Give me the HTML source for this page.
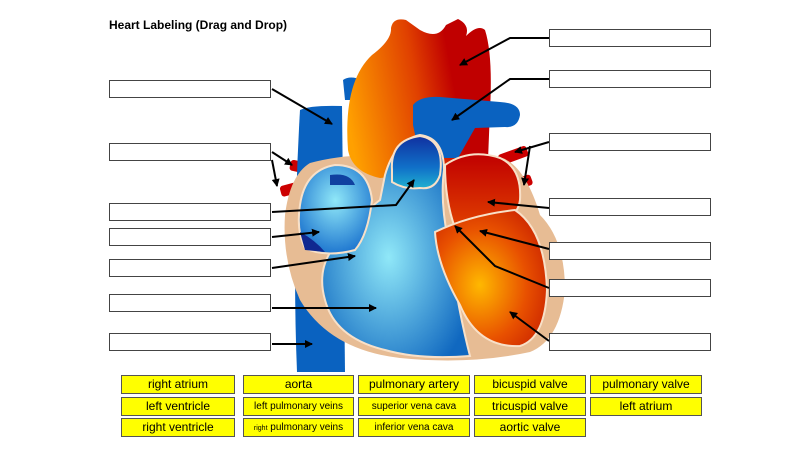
<!DOCTYPE html>
<html><head><style>
body{margin:0;width:800px;height:450px;background:#fff;overflow:hidden;font-family:"Liberation Sans",sans-serif}
.t{position:absolute;left:109px;top:18px;font-size:12px;font-weight:bold}
.b{position:absolute;width:162px;height:18px;border:1px solid #444;background:#fff;box-sizing:border-box}
.y{position:absolute;height:19px;background:#ff0;border:1px solid #555;box-sizing:border-box;font-size:12px;text-align:center;line-height:17px}
</style></head><body>
<svg width="800" height="450" style="position:absolute;left:0;top:0">
<defs>
<linearGradient id="ao" x1="0" y1="0.6" x2="1" y2="0.4"><stop offset="0" stop-color="#ffa000"/><stop offset="0.5" stop-color="#e04000"/><stop offset="0.75" stop-color="#c00000"/></linearGradient>
<radialGradient id="bl" cx="0.45" cy="0.55" r="0.6"><stop offset="0" stop-color="#90e8f8"/><stop offset="1" stop-color="#1068c0"/></radialGradient>
<radialGradient id="ra" cx="0.5" cy="0.4" r="0.6"><stop offset="0" stop-color="#90e8f8"/><stop offset="1" stop-color="#2078d0"/></radialGradient>
<radialGradient id="lo" cx="0.4" cy="0.55" r="0.7"><stop offset="0" stop-color="#ffb800"/><stop offset="0.6" stop-color="#e85000"/><stop offset="1" stop-color="#c82000"/></radialGradient>
<linearGradient id="la" x1="0" y1="0" x2="0" y2="1"><stop offset="0" stop-color="#c00000"/><stop offset="1" stop-color="#e04000"/></linearGradient>
<linearGradient id="pv" x1="0" y1="0" x2="0" y2="1"><stop offset="0" stop-color="#1030a0"/><stop offset="0.6" stop-color="#1070c8"/><stop offset="1" stop-color="#20b0d0"/></linearGradient>
<marker id="a" markerWidth="8" markerHeight="8" refX="7" refY="4" orient="auto" markerUnits="userSpaceOnUse"><path d="M0,0 L8,4 L0,8z" fill="#000"/></marker>
</defs>
<!-- red pulmonary veins -->
<rect x="290" y="162" width="26" height="11" rx="3" fill="#c00" transform="rotate(12 303 167)"/>
<rect x="280" y="182" width="34" height="11" rx="3" fill="#c00" transform="rotate(-15 297 187)"/>
<rect x="498" y="150" width="30" height="11" rx="3" fill="#c00" transform="rotate(-20 513 155)"/>
<rect x="512" y="177" width="20" height="11" rx="3" fill="#c00" transform="rotate(-20 522 182)"/>
<!-- SVC / IVC -->
<path d="M300,110 Q310,105 342,106 L345,372 L297,372 Q292,250 300,110z" fill="#0a62c0"/>
<path d="M343,80 Q350,75 362,80 L362,100 L345,100z" fill="#0a62c0"/>
<!-- outer tan -->
<path d="M310,163 Q290,175 285,215 Q282,260 300,300 Q330,350 400,358 Q470,365 530,352 Q560,340 565,290 Q565,240 540,215 Q525,165 500,157 L460,150 Q430,145 400,160 Q360,150 310,163z" fill="#e7bc94"/>
<!-- aorta arch -->
<path d="M348,150 Q343,82 372,55 Q392,40 391,28 Q393,17 406,20 L420,30 Q438,40 446,25 L458,19 Q470,25 466,36 Q478,24 485,30 Q493,55 490,110 L488,160 L460,172 L380,178 Q352,172 348,150z" fill="url(#ao)"/>
<!-- pulmonary artery blue -->
<path d="M413,105 Q420,96 440,97 L500,102 Q520,103 520,115 Q518,128 505,127 L475,128 L458,158 L420,158 L413,125z" fill="#0a62c0"/>
<!-- right ventricle -->
<path d="M340,240 Q360,215 380,200 L385,175 Q395,140 420,135 Q444,138 444,170 Q440,200 448,240 Q458,310 470,356 Q420,360 385,350 Q335,338 325,300 Q315,265 340,240z" fill="url(#bl)" stroke="#f8e0c8" stroke-width="2"/>
<!-- right atrium -->
<path d="M300,205 Q305,170 335,165 Q368,165 372,200 Q368,235 355,250 Q325,258 305,248 Q296,230 300,205z" fill="url(#ra)" stroke="#f8e0c8" stroke-width="2"/>
<path d="M330,175 Q350,172 355,185 L330,185z" fill="#1040a0"/>
<path d="M300,232 Q315,240 325,252 L305,250z" fill="#102890"/>
<!-- pulmonary valve -->
<path d="M392,170 Q390,140 420,136 Q445,140 440,175 Q435,190 420,188 Q405,190 392,182z" fill="url(#pv)" stroke="#f8e0c8" stroke-width="2"/>
<!-- left atrium -->
<path d="M445,165 Q470,148 500,158 Q522,168 520,200 Q518,215 505,218 L455,228 Q445,200 445,165z" fill="url(#la)" stroke="#f8e0c8" stroke-width="2"/>
<!-- left ventricle -->
<path d="M435,232 Q470,215 515,210 Q545,230 547,290 Q545,338 520,346 Q478,348 460,305 Q437,265 435,232z" fill="url(#lo)" stroke="#f8e0c8" stroke-width="2"/>
<!-- arrows -->
<g stroke="#000" stroke-width="2" fill="none" marker-end="url(#a)">
<path d="M272,89 L332,124"/>
<path d="M272,152 L292,165"/>
<path d="M272,160 L277,186"/>
<path d="M272,212 L396,205 L414,180"/>
<path d="M272,237 L319,232"/>
<path d="M272,268 L355,256"/>
<path d="M272,308 L376,308"/>
<path d="M272,344 L312,344"/>
<path d="M549,38 L510,38 L460,65"/>
<path d="M549,79 L510,79 L452,120"/>
<path d="M549,142 L515,152"/>
<path d="M530,146 L524,185"/>
<path d="M549,208 L488,202"/>
<path d="M549,249 L480,231"/>
<path d="M549,288 L495,266 L455,226"/>
<path d="M549,341 L510,312"/>
</g>
</svg>
<div class="t">Heart Labeling (Drag and Drop)</div>
<div class="b" style="left:109px;top:80px"></div>
<div class="b" style="left:109px;top:143px"></div>
<div class="b" style="left:109px;top:203px"></div>
<div class="b" style="left:109px;top:228px"></div>
<div class="b" style="left:109px;top:259px"></div>
<div class="b" style="left:109px;top:294px"></div>
<div class="b" style="left:109px;top:333px"></div>
<div class="b" style="left:549px;top:29px"></div>
<div class="b" style="left:549px;top:70px"></div>
<div class="b" style="left:549px;top:133px"></div>
<div class="b" style="left:549px;top:198px"></div>
<div class="b" style="left:549px;top:242px"></div>
<div class="b" style="left:549px;top:279px"></div>
<div class="b" style="left:549px;top:333px"></div>
<div class="y" style="left:121px;top:375px;width:114px">right atrium</div>
<div class="y" style="left:243px;top:375px;width:111px">aorta</div>
<div class="y" style="left:358px;top:375px;width:112px">pulmonary artery</div>
<div class="y" style="left:474px;top:375px;width:112px">bicuspid valve</div>
<div class="y" style="left:590px;top:375px;width:112px">pulmonary valve</div>
<div class="y" style="left:121px;top:397px;width:114px">left ventricle</div>
<div class="y" style="left:243px;top:397px;width:111px;font-size:10px">left pulmonary veins</div>
<div class="y" style="left:358px;top:397px;width:112px;font-size:10px">superior vena cava</div>
<div class="y" style="left:474px;top:397px;width:112px">tricuspid valve</div>
<div class="y" style="left:590px;top:397px;width:112px">left atrium</div>
<div class="y" style="left:121px;top:418px;width:114px">right ventricle</div>
<div class="y" style="left:243px;top:418px;width:111px;font-size:10px"><span style="font-size:7px">right</span> pulmonary veins</div>
<div class="y" style="left:358px;top:418px;width:112px;font-size:10px">inferior vena cava</div>
<div class="y" style="left:474px;top:418px;width:112px">aortic valve</div>
</body></html>
